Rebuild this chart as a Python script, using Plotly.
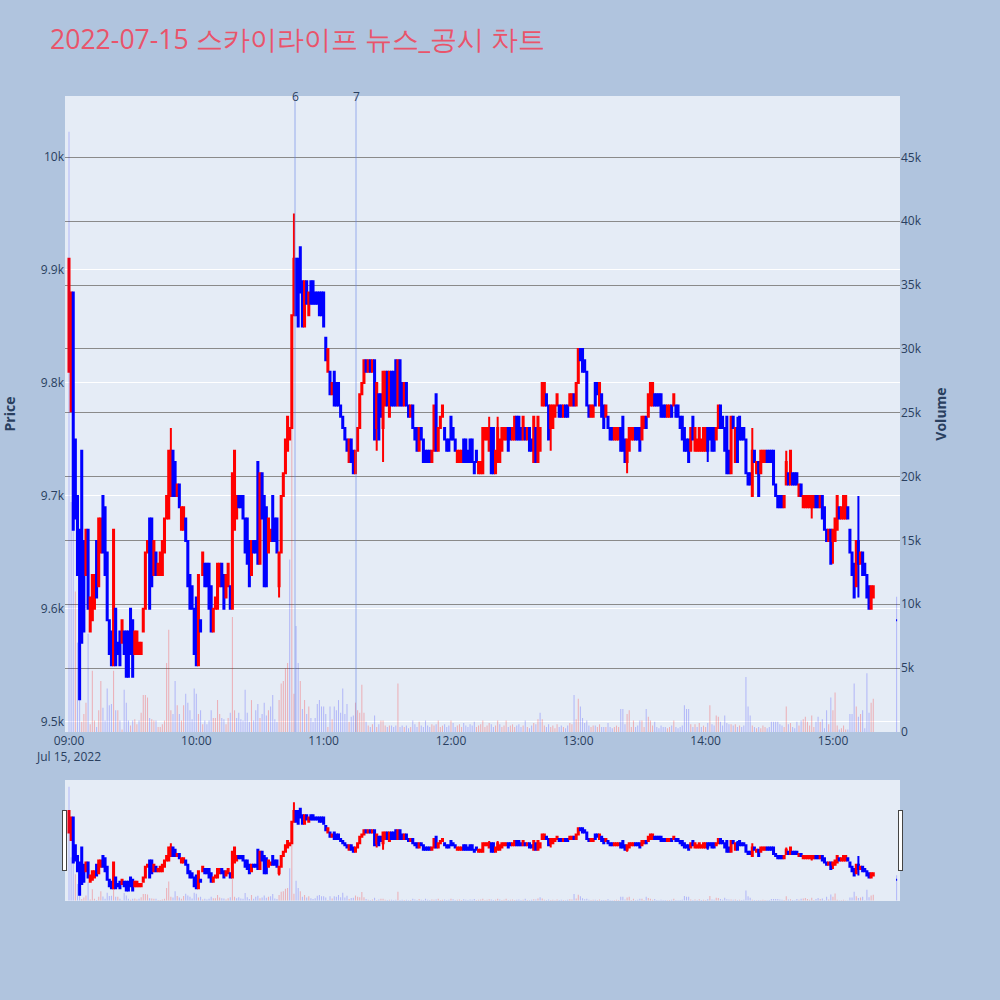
import pandas as pd
import plotly.graph_objects as go

trade_date = "2022-07-15"
chart_title = "2022-07-15 스카이라이프 뉴스_공시 차트"
minute_times = list(pd.date_range(f"{trade_date} 09:00", periods=380, freq="min"))
auction_time = [pd.Timestamp(f"{trade_date} 15:30")]
times = minute_times + auction_time

prev_session_close = 9950

# ---- opens / closes per minute (one row = 10 minutes) ----
opens_h1 = [9810, 9775, 9880, 9750, 9700, 9670, 9740, 9660, 9630, 9670,
            9580, 9590, 9600, 9660, 9620, 9650, 9700, 9690, 9650, 9590,
            9580, 9550, 9600, 9570, 9580, 9570, 9580, 9580, 9580, 9600,
            9590, 9560, 9560, 9560, 9560, 9580, 9600, 9650, 9680, 9680,
            9630, 9650, 9630, 9630, 9630, 9650, 9680, 9680, 9700, 9740,
            9730, 9700, 9710, 9670, 9670, 9680, 9660, 9630, 9620, 9600]
closes_h1 = [9910, 9880, 9670, 9680, 9630, 9520, 9570, 9580, 9670, 9600,
             9610, 9630, 9630, 9610, 9680, 9680, 9650, 9630, 9590, 9560,
             9550, 9670, 9550, 9560, 9550, 9590, 9560, 9540, 9540, 9560,
             9540, 9580, 9580, 9570, 9570, 9600, 9650, 9660, 9600, 9620,
             9660, 9630, 9640, 9650, 9660, 9680, 9700, 9740, 9740, 9700,
             9700, 9710, 9690, 9690, 9690, 9660, 9620, 9600, 9600, 9560]

opens_h2 = [9610, 9550, 9590, 9630, 9640, 9640, 9640, 9620, 9580, 9600,
            9600, 9620, 9640, 9630, 9610, 9620, 9620, 9600, 9670, 9680,
            9700, 9700, 9700, 9680, 9680, 9660, 9630, 9660, 9660, 9730,
            9640, 9720, 9700, 9690, 9650, 9660, 9700, 9680, 9680, 9620,
            9650, 9700, 9720, 9740, 9750, 9760, 9860, 9910, 9910, 9920,
            9890, 9850, 9890, 9860, 9890, 9890, 9880, 9880, 9880, 9880]
closes_h2 = [9550, 9630, 9580, 9650, 9620, 9620, 9600, 9580, 9600, 9610,
             9640, 9640, 9620, 9600, 9630, 9640, 9600, 9720, 9740, 9700,
             9690, 9690, 9680, 9650, 9640, 9620, 9660, 9650, 9650, 9640,
             9720, 9680, 9620, 9620, 9680, 9670, 9660, 9660, 9650, 9650,
             9700, 9720, 9750, 9770, 9760, 9860, 9910, 9860, 9850, 9880,
             9850, 9890, 9870, 9880, 9870, 9870, 9870, 9870, 9860, 9860]

opens_h3 = [9880, 9840, 9810, 9810, 9790, 9810, 9800, 9800, 9780, 9770,
            9760, 9750, 9730, 9750, 9740, 9720, 9740, 9760, 9790, 9800,
            9820, 9810, 9820, 9810, 9820, 9760, 9790, 9790, 9760, 9780,
            9810, 9770, 9810, 9810, 9820, 9780, 9820, 9800, 9780, 9800,
            9780, 9770, 9780, 9760, 9760, 9740, 9760, 9750, 9740, 9740,
            9740, 9730, 9740, 9790, 9740, 9760, 9770, 9760, 9750, 9750]
closes_h3 = [9850, 9820, 9830, 9790, 9800, 9780, 9780, 9780, 9770, 9760,
             9750, 9740, 9750, 9730, 9720, 9740, 9760, 9790, 9800, 9820,
             9810, 9820, 9810, 9820, 9750, 9800, 9750, 9770, 9810, 9810,
             9780, 9810, 9780, 9780, 9780, 9820, 9780, 9780, 9800, 9780,
             9770, 9780, 9760, 9750, 9740, 9760, 9750, 9730, 9730, 9730,
             9730, 9740, 9780, 9740, 9760, 9770, 9780, 9750, 9740, 9740]

opens_h4 = [9770, 9760, 9750, 9730, 9730, 9730, 9750, 9750, 9740, 9750,
            9750, 9730, 9740, 9720, 9720, 9720, 9750, 9750, 9740, 9760,
            9760, 9720, 9730, 9730, 9740, 9750, 9750, 9760, 9760, 9750,
            9750, 9770, 9770, 9760, 9750, 9760, 9750, 9760, 9750, 9730,
            9760, 9730, 9740, 9780, 9780, 9790, 9780, 9760, 9760, 9770,
            9780, 9780, 9780, 9770, 9780, 9780, 9780, 9780, 9790, 9780]
closes_h4 = [9750, 9750, 9740, 9740, 9740, 9740, 9730, 9730, 9730, 9730,
             9730, 9720, 9730, 9730, 9730, 9760, 9760, 9760, 9760, 9720,
             9720, 9740, 9760, 9750, 9760, 9760, 9760, 9740, 9750, 9760,
             9770, 9750, 9750, 9750, 9770, 9750, 9760, 9740, 9740, 9770,
             9730, 9770, 9760, 9800, 9800, 9780, 9750, 9780, 9780, 9780,
             9790, 9770, 9770, 9780, 9770, 9770, 9790, 9790, 9780, 9800]

opens_h5 = [9800, 9830, 9830, 9820, 9810, 9780, 9770, 9770, 9800, 9800,
            9780, 9790, 9780, 9770, 9770, 9760, 9760, 9750, 9750, 9750,
            9760, 9770, 9750, 9730, 9740, 9750, 9750, 9760, 9760, 9760,
            9750, 9760, 9770, 9770, 9780, 9780, 9790, 9790, 9790, 9790,
            9780, 9780, 9770, 9770, 9780, 9780, 9780, 9780, 9770, 9770,
            9760, 9750, 9750, 9740, 9770, 9740, 9740, 9740, 9740, 9740]
closes_h5 = [9830, 9820, 9810, 9810, 9780, 9770, 9780, 9780, 9780, 9790,
             9800, 9770, 9760, 9780, 9760, 9750, 9750, 9760, 9760, 9760,
             9740, 9740, 9730, 9750, 9760, 9760, 9760, 9750, 9750, 9740,
             9770, 9770, 9760, 9790, 9800, 9800, 9780, 9780, 9780, 9770,
             9770, 9770, 9780, 9780, 9770, 9790, 9770, 9770, 9760, 9750,
             9740, 9740, 9730, 9760, 9750, 9760, 9750, 9760, 9750, 9760]

opens_h6 = [9740, 9760, 9760, 9760, 9760, 9750, 9760, 9780, 9770, 9760,
            9770, 9740, 9720, 9770, 9730, 9760, 9770, 9760, 9760, 9750,
            9720, 9720, 9700, 9740, 9720, 9730, 9720, 9730, 9730, 9740,
            9740, 9740, 9740, 9710, 9700, 9700, 9700, 9690, 9710, 9720,
            9710, 9720, 9720, 9720, 9700, 9710, 9690, 9690, 9690, 9690,
            9690, 9690, 9700, 9700, 9690, 9700, 9690, 9670, 9660, 9670]
closes_h6 = [9760, 9740, 9750, 9740, 9740, 9760, 9780, 9760, 9760, 9740,
             9720, 9720, 9770, 9760, 9760, 9730, 9750, 9750, 9750, 9720,
             9710, 9710, 9740, 9730, 9730, 9700, 9740, 9740, 9740, 9730,
             9730, 9730, 9710, 9700, 9690, 9690, 9690, 9700, 9730, 9710,
             9740, 9710, 9710, 9710, 9710, 9700, 9700, 9700, 9700, 9700,
             9700, 9700, 9690, 9690, 9700, 9680, 9670, 9660, 9670, 9640]

opens_h7 = [9660, 9660, 9670, 9690, 9680, 9680, 9680, 9690, 9670, 9650,
            9640, 9620, 9660, 9640, 9650, 9640, 9630, 9620, 9600, 9610]
closes_h7 = [9670, 9680, 9700, 9680, 9690, 9700, 9700, 9680, 9650, 9630,
             9610, 9660, 9640, 9650, 9630, 9630, 9610, 9600, 9620, 9620]

auction_price = [9590]

# wick extremes (minute index -> price)
high_wicks = {48: 9760, 78: 9740, 106: 9950, 198: 9770, 202: 9770, 315: 9770,
              322: 9760, 338: 9740, 372: 9700}
low_wicks = {99: 9610, 145: 9740, 148: 9730, 227: 9740, 263: 9720, 301: 9730,
             350: 9680, 360: 9640, 372: 9610}

# ---- volumes per minute ----
vol_h1 = [47000, 18000, 16000, 11000, 7000, 2500, 800, 1400, 2300, 7700,
          600, 4800, 900, 400, 1700, 4000, 1900, 900, 3400, 2100,
          2200, 4800, 1700, 1700, 900, 200, 3300, 2300, 900, 500,
          900, 1000, 600, 900, 1500, 2900, 2900, 2700, 1100, 1000,
          900, 900, 400, 400, 600, 900, 5400, 8000, 1700, 1400,
          4000, 2100, 1400, 900, 2100, 3000, 2300, 1700, 1000, 3400]
vol_h2 = [3000, 1400, 1700, 600, 900, 600, 900, 1700, 1100, 1100,
          2500, 1400, 1100, 1000, 600, 1100, 1500, 9000, 1700, 1100,
          1500, 1000, 900, 3300, 1500, 800, 2500, 900, 1700, 2200,
          1100, 1400, 2300, 1300, 1700, 2000, 2900, 1000, 800, 2500,
          3800, 4000, 5000, 5400, 13500, 28000, 3000, 8300, 5400, 4000,
          1800, 2500, 1400, 2000, 1100, 800, 1100, 2200, 2500, 2000]
vol_h3 = [2000, 1400, 400, 2000, 1000, 2000, 1700, 2500, 1500, 3400,
          1400, 2200, 800, 1200, 1300, 2300, 1700, 1500, 3700, 1500,
          800, 500, 400, 600, 1300, 400, 600, 900, 900, 500,
          400, 500, 500, 400, 500, 3800, 400, 500, 400, 500,
          300, 400, 900, 600, 400, 800, 500, 400, 900, 500,
          400, 600, 500, 600, 900, 400, 500, 600, 400, 500]
vol_h4 = [900, 700, 400, 500, 600, 400, 700, 500, 400, 600,
          500, 800, 400, 500, 600, 900, 400, 500, 700, 600,
          400, 500, 900, 600, 400, 500, 900, 400, 500, 600,
          400, 500, 600, 400, 500, 900, 400, 300, 500, 700,
          600, 1000, 1500, 1000, 500, 400, 600, 400, 500, 300,
          600, 400, 500, 400, 300, 500, 700, 600, 2900, 1000]
vol_h5 = [2600, 2000, 1100, 700, 900, 500, 400, 500, 500, 400,
          600, 400, 400, 400, 700, 400, 300, 400, 500, 400,
          1800, 1800, 600, 1400, 1700, 400, 900, 400, 500, 900,
          900, 400, 1800, 1200, 900, 500, 800, 400, 300, 500,
          400, 400, 300, 400, 500, 900, 400, 300, 400, 500,
          2100, 1800, 1800, 600, 400, 600, 400, 700, 400, 500]
vol_h6 = [400, 700, 2100, 600, 500, 1300, 1200, 800, 500, 1300,
          700, 600, 600, 500, 600, 400, 500, 400, 500, 4300,
          2000, 1300, 500, 400, 300, 400, 300, 500, 400, 300,
          400, 800, 800, 800, 800, 600, 500, 400, 2000, 600,
          700, 400, 300, 800, 500, 900, 1000, 1200, 800, 500,
          1300, 400, 800, 1200, 800, 1000, 300, 1700, 600, 2700]
vol_h7 = [1700, 3100, 500, 200, 300, 500, 200, 200, 1400, 1400,
          3800, 2000, 1200, 1400, 1700, 300, 4600, 1500, 2300, 2600]
auction_volume = [10600]

# ---- news markers ----
news_labels = ["6", "7"]
news_times = [f"{trade_date} 10:46:30", f"{trade_date} 11:15:15"]

opens = opens_h1 + opens_h2 + opens_h3 + opens_h4 + opens_h5 + opens_h6 + opens_h7 + auction_price
closes = closes_h1 + closes_h2 + closes_h3 + closes_h4 + closes_h5 + closes_h6 + closes_h7 + auction_price
volumes = vol_h1 + vol_h2 + vol_h3 + vol_h4 + vol_h5 + vol_h6 + vol_h7 + auction_volume
assert len(opens) == len(closes) == len(volumes) == len(times), (len(opens), len(closes), len(volumes), len(times))

highs = [max(o, c, high_wicks.get(i, o)) for i, (o, c) in enumerate(zip(opens, closes))]
lows = [min(o, c, low_wicks.get(i, o)) for i, (o, c) in enumerate(zip(opens, closes))]

vol_colors = []
prev = prev_session_close
for o, c in zip(opens, closes):
    if c > prev or (c == prev and c > o):
        vol_colors.append("rgba(255,0,0,0.25)")
    else:
        vol_colors.append("rgba(0,0,255,0.22)")
    prev = c

x_range = [f"{trade_date} 08:58:07", f"{trade_date} 15:31:36"]

fig = go.Figure()
fig.add_trace(go.Candlestick(
    x=times, open=opens, high=highs, low=lows, close=closes,
    increasing=dict(line=dict(color="red", width=2), fillcolor="red"),
    decreasing=dict(line=dict(color="blue", width=2), fillcolor="blue"),
    name="Price", showlegend=False,
))
fig.add_trace(go.Bar(
    x=times, y=volumes, marker=dict(color=vol_colors, line=dict(width=0)),
    yaxis="y2", name="Volume", showlegend=False,
))

for label, t in zip(news_labels, news_times):
    fig.add_shape(type="line", xref="x", yref="paper", x0=t, x1=t, y0=0, y1=1,
                  line=dict(color="rgba(100,130,230,0.6)", width=1))
    fig.add_annotation(x=t, xref="x", y=1, yref="paper", text=label, showarrow=False,
                       yanchor="middle", font=dict(size=12, color="#2a3f5f"))

fig.update_layout(
    width=1000,
    height=1000,
    paper_bgcolor="#B0C4DE",
    plot_bgcolor="#E5ECF6",
    showlegend=False,
    margin=dict(l=65, r=100, t=96, b=100),
    title=dict(text=chart_title, x=0.05, xanchor="left", y=0.96, yanchor="middle",
               font=dict(size=26.6, color="#E9546B")),
    bargap=0.5,
    xaxis=dict(type="date", range=x_range, showgrid=False,
               rangeslider=dict(visible=True, range=x_range, bgcolor="#E5ECF6", thickness=0.15)),
    yaxis=dict(title=dict(text="<b>Price</b>", font=dict(size=14), standoff=22), automargin=False,
               range=[9491, 10054], dtick=100, gridcolor="white", zeroline=False),
    yaxis2=dict(title=dict(text="<b>Volume</b>", font=dict(size=14)), automargin=False,
                overlaying="y", side="right",
                range=[0, 49800], dtick=5000, showgrid=True, gridcolor="#8a8a8a", zeroline=False),
)

fig.write_html("out.html", config={"displayModeBar": False},
               post_script="document.body.style.margin='0';")
